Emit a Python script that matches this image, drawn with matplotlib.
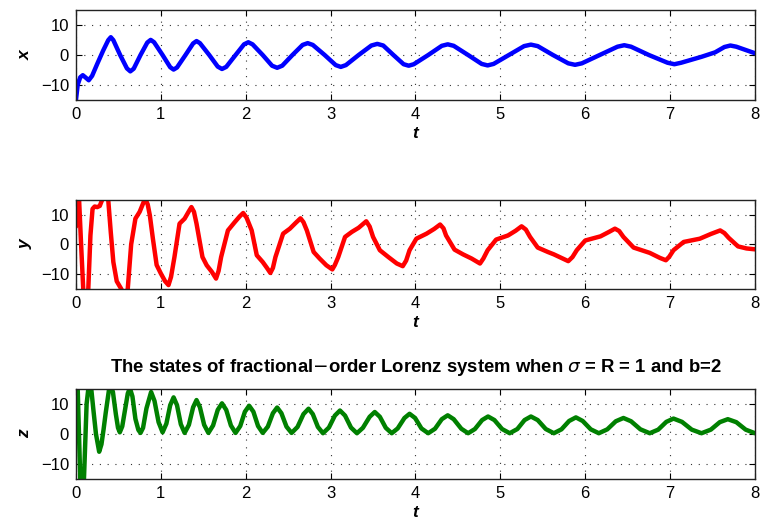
import numpy as np
import matplotlib
matplotlib.use('Agg')
import matplotlib.pyplot as plt

plt.rcParams['font.family'] = ['Liberation Sans', 'DejaVu Sans']

# x(t)
t_x = [0.00, 0.02, 0.05, 0.08, 0.11, 0.15, 0.19, 0.25, 0.32, 0.38, 0.41, 0.44, 0.52, 0.60, 0.64,
       0.68, 0.76, 0.84, 0.88, 0.92, 1.02, 1.11, 1.15, 1.19, 1.29, 1.38, 1.42, 1.46, 1.57, 1.67,
       1.72, 1.77, 1.88, 1.98, 2.03, 2.08, 2.20, 2.31, 2.37, 2.43, 2.55, 2.67, 2.73, 2.79, 2.93,
       3.06, 3.12, 3.18, 3.33, 3.48, 3.55, 3.62, 3.74, 3.86, 3.92, 3.98, 4.15, 4.31, 4.38, 4.45,
       4.62, 4.78, 4.85, 4.92, 5.10, 5.28, 5.36, 5.44, 5.62, 5.80, 5.88, 5.96, 6.17, 6.38, 6.46,
       6.54, 6.75, 6.97, 7.05, 7.13, 7.37, 7.53, 7.64, 7.71, 7.78, 8.00]
x_vals = [-15.0, -10.0, -7.5, -6.8, -7.5, -8.5, -7.0, -3.0, 1.5, 5.0, 6.0, 5.0, 0.0, -4.5, -5.5,
          -4.6, 0.0, 4.2, 5.1, 4.3, 0.0, -4.1, -4.9, -4.2, 0.0, 3.9, 4.7, 4.0, 0.0, -3.9,
          -4.7, -4.0, 0.0, 3.6, 4.3, 3.6, 0.0, -3.6, -4.3, -3.6, 0.0, 3.4, 4.0, 3.4, 0.0,
          -3.4, -4.0, -3.4, 0.0, 3.2, 3.75, 3.2, 0.0, -3.1, -3.6, -3.1, 0.0, 3.1, 3.6, 3.1,
          0.0, -3.0, -3.5, -3.0, 0.0, 3.0, 3.5, 3.0, 0.0, -2.8, -3.3, -2.8, 0.0, 2.8, 3.3,
          2.8, 0.0, -2.6, -3.1, -2.6, -0.6, 0.9, 2.7, 3.2, 2.8, 0.6]

# y(t)
t_y = [0.00, 0.01, 0.02, 0.035, 0.06, 0.085, 0.11, 0.145, 0.17, 0.195, 0.22, 0.25, 0.28, 0.31,
       0.345, 0.38, 0.41, 0.44, 0.48, 0.535, 0.575, 0.61, 0.65, 0.70, 0.75, 0.80, 0.82, 0.845,
       0.87, 0.906, 0.95, 1.00, 1.05, 1.09, 1.12, 1.16, 1.22, 1.28, 1.33, 1.36, 1.39, 1.42,
       1.49, 1.54, 1.60, 1.65, 1.68, 1.71, 1.79, 1.87, 1.93, 1.97, 2.01, 2.07, 2.13, 2.20,
       2.25, 2.29, 2.32, 2.35, 2.44, 2.52, 2.59, 2.645, 2.68, 2.72, 2.80, 2.87, 2.95, 3.02,
       3.05, 3.09, 3.17, 3.25, 3.33, 3.42, 3.46, 3.50, 3.58, 3.68, 3.78, 3.85, 3.89, 3.93,
       4.01, 4.13, 4.22, 4.29, 4.33, 4.36, 4.46, 4.56, 4.66, 4.76, 4.80, 4.85, 4.95, 5.09,
       5.18, 5.25, 5.30, 5.35, 5.44, 5.56, 5.63, 5.72, 5.80, 5.85, 5.90, 6.00, 6.18, 6.28,
       6.35, 6.40, 6.45, 6.57, 6.76, 6.88, 6.95, 6.99, 7.04, 7.16, 7.35, 7.48, 7.59, 7.64,
       7.69, 7.80, 7.90, 8.00]
y_vals = [6.0, 15.5, 20.0, 16.0, 0.0, -15.0, -20.0, -15.0, 3.0, 12.0, 12.8, 12.6, 13.0, 15.2,
          19.0, 15.0, 4.0, -6.0, -12.5, -15.2, -18.0, -15.0, 0.0, 8.7, 11.0, 14.5, 15.2, 13.5,
          9.8, 1.9, -7.0, -9.9, -12.5, -13.8, -11.0, -4.3, 7.0, 8.7, 11.2, 12.6, 11.0, 7.0,
          -4.3, -7.1, -9.3, -11.6, -9.0, -4.3, 4.7, 7.5, 9.5, 10.6, 9.0, 4.7, -3.7, -6.0,
          -8.0, -9.7, -8.0, -4.3, 3.6, 5.3, 7.3, 8.8, 7.5, 4.7, -2.6, -4.8, -7.1, -8.5,
          -7.0, -4.3, 2.5, 4.2, 5.6, 7.8, 6.0, 2.5, -2.0, -4.3, -6.5, -7.4, -5.5, -2.0,
          1.9, 3.6, 5.2, 6.7, 5.4, 3.0, -1.8, -3.4, -4.8, -6.5, -4.8, -2.0, 1.6, 3.0,
          4.6, 6.1, 5.0, 2.5, -1.1, -2.6, -3.4, -4.6, -5.7, -4.3, -2.0, 1.3, 2.7, 4.2,
          5.3, 4.5, 2.5, -1.1, -2.9, -4.6, -5.4, -4.2, -2.0, 0.8, 1.9, 3.5, 4.7, 3.8,
          2.2, -0.7, -1.4, -1.7]

# z(t)
t_z = [0.00, 0.02, 0.05, 0.07, 0.094, 0.125, 0.145, 0.16, 0.18, 0.205, 0.235, 0.273, 0.30, 0.325,
       0.35, 0.39, 0.41, 0.435, 0.47, 0.495, 0.516, 0.545, 0.58, 0.61, 0.635, 0.665, 0.70, 0.735,
       0.76, 0.79, 0.83, 0.885, 0.925, 0.973, 1.02, 1.065, 1.11, 1.15, 1.19, 1.235, 1.28, 1.33,
       1.38, 1.42, 1.46, 1.51, 1.56, 1.615, 1.67, 1.72, 1.77, 1.825, 1.88, 1.935, 1.99, 2.04,
       2.09, 2.145, 2.20, 2.26, 2.32, 2.37, 2.42, 2.48, 2.54, 2.61, 2.68, 2.74, 2.79, 2.85,
       2.91, 2.98, 3.05, 3.11, 3.17, 3.24, 3.31, 3.38, 3.46, 3.52, 3.58, 3.65, 3.72, 3.79,
       3.87, 3.93, 3.995, 4.07, 4.15, 4.23, 4.31, 4.38, 4.45, 4.54, 4.62, 4.70, 4.785, 4.855,
       4.93, 5.02, 5.11, 5.20, 5.285, 5.36, 5.44, 5.535, 5.63, 5.72, 5.81, 5.89, 5.97, 6.065,
       6.16, 6.26, 6.36, 6.45, 6.54, 6.65, 6.76, 6.86, 6.955, 7.04, 7.14, 7.255, 7.37, 7.48,
       7.585, 7.68, 7.78, 7.89, 8.00]
z_vals = [22.0, 15.0, -15.0, -22.0, -15.0, 10.0, 15.0, 17.0, 15.0, 8.0, 0.0, -6.0, -3.5, 1.5,
          7.0, 15.0, 16.0, 14.0, 6.5, 2.0, 0.5, 2.5, 8.5, 13.5, 15.3, 12.5, 5.0, 1.3,
          0.3, 2.0, 8.5, 14.0, 11.0, 3.9, 0.5, 3.4, 9.6, 12.2, 9.6, 3.2, 0.3, 3.0,
          8.9, 11.3, 8.9, 3.0, 0.3, 2.8, 8.0, 10.2, 8.0, 2.8, 0.3, 2.6, 7.4, 9.4,
          7.4, 2.6, 0.3, 2.4, 6.9, 8.8, 6.9, 2.4, 0.3, 2.3, 6.6, 8.4, 6.6, 2.3,
          0.2, 2.1, 6.1, 7.8, 6.1, 2.1, 0.2, 2.0, 5.7, 7.3, 5.7, 2.0, 0.2, 1.8,
          5.3, 6.7, 5.3, 1.8, 0.2, 1.7, 4.9, 6.2, 4.9, 1.7, 0.2, 1.6, 4.6, 5.8,
          4.6, 1.6, 0.2, 1.6, 4.6, 5.8, 4.6, 1.6, 0.2, 1.5, 4.3, 5.5, 4.3, 1.5,
          0.2, 1.5, 4.2, 5.3, 4.2, 1.5, 0.2, 1.4, 4.0, 5.1, 4.0, 1.4, 0.2, 1.4,
          3.9, 4.9, 3.9, 1.4, 0.2]

fig = plt.figure(figsize=(7.6, 5.24), dpi=100)
boxes = [[0.1, 0.810, 0.8934, 0.170],
         [0.1, 0.4492, 0.8934, 0.1691],
         [0.1, 0.0866, 0.8934, 0.1710]]
series = [(t_x, x_vals, 'b', 'x'), (t_y, y_vals, 'r', 'y'), (t_z, z_vals, (0, 0.5, 0), 'z')]

for box, (tt, vv, col, name) in zip(boxes, series):
    ax = fig.add_axes(box)
    ax.plot(tt, vv, color=col, linewidth=3.2, solid_joinstyle='round', solid_capstyle='round')
    ax.set_xlim(0, 8)
    ax.set_ylim(-15, 15)
    ax.set_xticks(range(9))
    ax.set_yticks([-10, 0, 10])
    ax.grid(True, linestyle=(0, (1, 6)), color='#333333', linewidth=0.8)
    ax.tick_params(direction='in', top=True, right=True, length=4, labelsize=12, pad=5)
    for s in ax.spines.values():
        s.set_linewidth(1.0)
        s.set_color('#222222')
    ax.set_xlabel('t', fontsize=12.5, fontweight='bold', fontstyle='italic', labelpad=3)
    ax.set_ylabel(name, fontsize=12.5, fontweight='bold', fontstyle='italic', labelpad=6)

ax.set_title(r'The states of fractional$-$order Lorenz system when $\sigma$ = R = 1 and b=2',
             fontsize=13.3, fontweight='bold', pad=12)

fig.savefig('out.png', dpi=100)
